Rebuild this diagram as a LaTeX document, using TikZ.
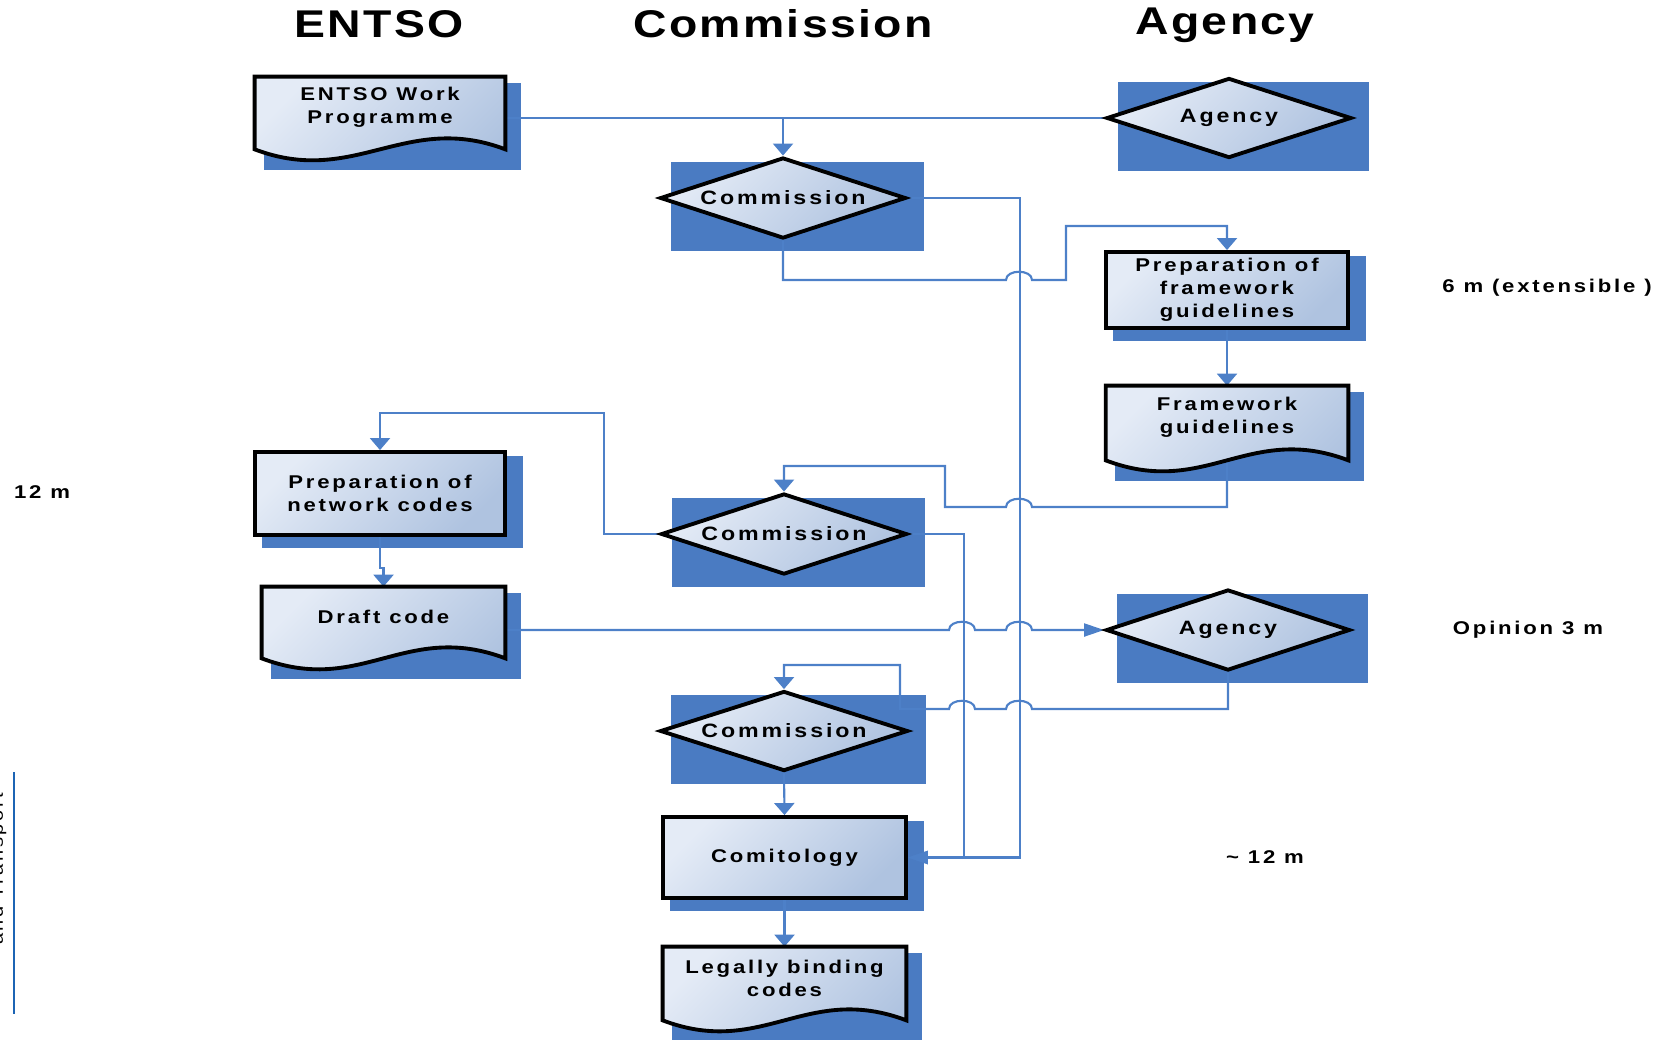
\documentclass[tikz,border=0pt]{standalone}
\usepackage{fontspec}
\setmainfont{Liberation Sans}
\newfontfamily\boxfont{Liberation Sans}[FakeStretch=1.2, LetterSpace=15]
\newfontfamily\headfont{Liberation Sans}[FakeStretch=1.2, LetterSpace=6]
\usepackage{tikz}
\usetikzlibrary{arrows.meta,shapes.geometric,positioning,calc}
\definecolor{shadowblue}{HTML}{4A7BC2}
\definecolor{linkblue}{HTML}{4D80C8}
\definecolor{boxlight}{HTML}{E4EBF6}
\definecolor{boxdark}{HTML}{AFC3E0}
\definecolor{barblue}{HTML}{1C64B4}

\pgfdeclarelayer{shadows}
\pgfdeclarelayer{links}
\pgfdeclarelayer{docs}
\pgfsetlayers{shadows,links,docs,main}

% blue block behind a box, shifted down and right
\newcommand{\boxshadow}[3][11]{\fill[shadowblue] ($(#2.west |- #2.north)+(#3,6)$) rectangle ($(#2.east |- #2.south)+(16,#1)$);}
% frame of a document box, wavy at the bottom
\newcommand{\docoutline}[1]{\path[docfill] (#1.north west) -- (#1.north east) -- ([yshift=-0.22cm]#1.south east) .. controls +(-100,-38) and +(100,38) .. ([yshift=-0.22cm]#1.south west) -- cycle;}

\begin{document}
\begin{tikzpicture}
[x=0.02cm, y=-0.02cm,
% STYLES
% The heading style is used for the three columns
heading/.style={font=\headfont\bfseries\fontsize{22}{26}\selectfont, inner sep=0pt, anchor=base},
% The procbox style is used for the steps with a plain frame
procbox/.style={rectangle, draw, line width=2.2pt, top color=boxlight, bottom color=boxdark, shading angle=45, inner sep=0pt, align=center, font=\boxfont\bfseries\fontsize{10.5}{13}\selectfont},
% The decision style is used for the bodies that decide
decision/.style={procbox, diamond, aspect=3, minimum width=4.92cm, minimum height=1.62cm, font=\boxfont\bfseries\fontsize{11}{13}\selectfont},
% The docbox style only holds the text, the frame comes from \docoutline
docbox/.style={rectangle, inner sep=0pt, align=center, font=\boxfont\bfseries\fontsize{10.5}{13}\selectfont},
docfill/.style={draw, line width=2.2pt, top color=boxlight, bottom color=boxdark, shading angle=45},
% The note style is used for the durations
note/.style={font=\boxfont\bfseries\fontsize{10.5}{13}\selectfont, inner sep=0pt},
link/.style={draw=linkblue, line width=1.2pt},
arrow/.style={link, -{Triangle[length=0.24cm, width=0.4cm]}},
longarrow/.style={link, -{Triangle[length=0.4cm, width=0.26cm]}}]

\useasboundingbox (0,0) rectangle (1673,1039);

% Draw headings
\node [heading] (hentso) at (379,37) {ENTSO};
\node [heading] (hcom) at (783,37) {Commission};
\node [heading] (hagency) at (1225,34) {Agency};

% Draw steps
\node [docbox, minimum width=5cm, minimum height=1.22cm] (ewp) at (380,107.5) {ENTSO Work\\Programme};
\node [decision, minimum width=4.9cm, minimum height=1.6cm] (agA) at (1229,118) {Agency};
\node [decision] (comA) at (783,198) {Commission};
\node [procbox, minimum width=4.84cm, minimum height=1.52cm] (prepfw) at (1227,290) {Preparation of\\framework\\guidelines};
\node [docbox, minimum width=4.84cm, minimum height=1.26cm] (fwg) at (1227,417.5) {Framework\\guidelines};
\node [procbox, minimum width=5cm, minimum height=1.66cm] (prepnc) at (380,493.5) {Preparation of\\network codes};
\node [decision] (comB) at (784,534) {Commission};
\node [docbox, minimum width=4.86cm, minimum height=1.2cm] (draft) at (383.5,617) {Draft code};
\node [decision, minimum width=4.88cm] (agB) at (1228,630) {Agency};
\node [decision, minimum width=4.96cm, minimum height=1.6cm] (comC) at (784,731) {Commission};
\node [procbox, minimum width=4.86cm, minimum height=1.62cm] (comit) at (784.5,857.5) {Comitology};
\node [docbox, minimum width=4.86cm, minimum height=1.24cm] (legal) at (784.5,978) {Legally binding\\codes};

% Durations
\node [note] (t12) at (42,492) {12 m};
\node [note] (tsix) at (1547,288) {6 m (extensible )};
\node [note] (topinion) at (1528,630) {Opinion 3 m};
\node [note] (tcomit) at (1265,857) {\textasciitilde\ 12 m};

% margin of the page
\draw [barblue, line width=0.06cm] (14,772) -- (14,1014);
\node [rotate=90, anchor=base west, inner sep=0pt, font=\boxfont\fontsize{9.5}{11}\selectfont] (side) at (3,945) {and Transport};

\begin{pgfonlayer}{docs}
\foreach \n in {ewp,fwg,draft,legal} {\docoutline{\n}}
\end{pgfonlayer}

\begin{pgfonlayer}{shadows}
\foreach \n in {agA,comA,comB,agB,comC} {\boxshadow{\n}{13}}
\foreach \n in {prepfw,prepnc,comit} {\boxshadow{\n}{9}}
\foreach \n in {ewp,fwg,draft,legal} {\boxshadow[32]{\n}{9}}
\end{pgfonlayer}

% Draw the links
\begin{pgfonlayer}{links}
\draw [link] (ewp.east |- agA.west) -- (agA.west);
\draw [arrow] (comA.north |- agA.west) -- (comA.north);
\draw [longarrow] (comA.east) -- ++(112,0) |- (comit.east);
\draw [arrow] (comA.south) |- (1006,280) .. controls +(0,-11) and +(0,-11) .. (1032,280) -| (1066,226) -| (prepfw.north);
\draw [arrow] (prepfw.south) -- (fwg.north);
\draw [arrow] ([yshift=-0.22cm]fwg.south) |- (1032,507) .. controls +(0,-11) and +(0,-11) .. (1006,507) -| (945,466) -| (comB.north);
\draw [arrow] (comB.west) -| (604,413) -| (prepnc.north);
\draw [arrow] (prepnc.south) -- ++(0,31) -| (draft.north);
\draw [longarrow] (comB.east) -- ++(55,0) |- (comit.east);
\draw [longarrow] (draft.east |- agB.west) -- (949,630) .. controls +(0,-11) and +(0,-11) .. (975,630) -- (1006,630) .. controls +(0,-11) and +(0,-11) .. (1032,630) -- (agB.west);
\draw [arrow] (agB.south) |- (1032,709) .. controls +(0,-11) and +(0,-11) .. (1006,709) -- (975,709) .. controls +(0,-11) and +(0,-11) .. (949,709) -| (900,665) -| (comC.north);
\draw [arrow] (comC.south) -- (comit.north);
\draw [arrow] (comit.south) -- (legal.north);
\end{pgfonlayer}

\end{tikzpicture}
\end{document}
